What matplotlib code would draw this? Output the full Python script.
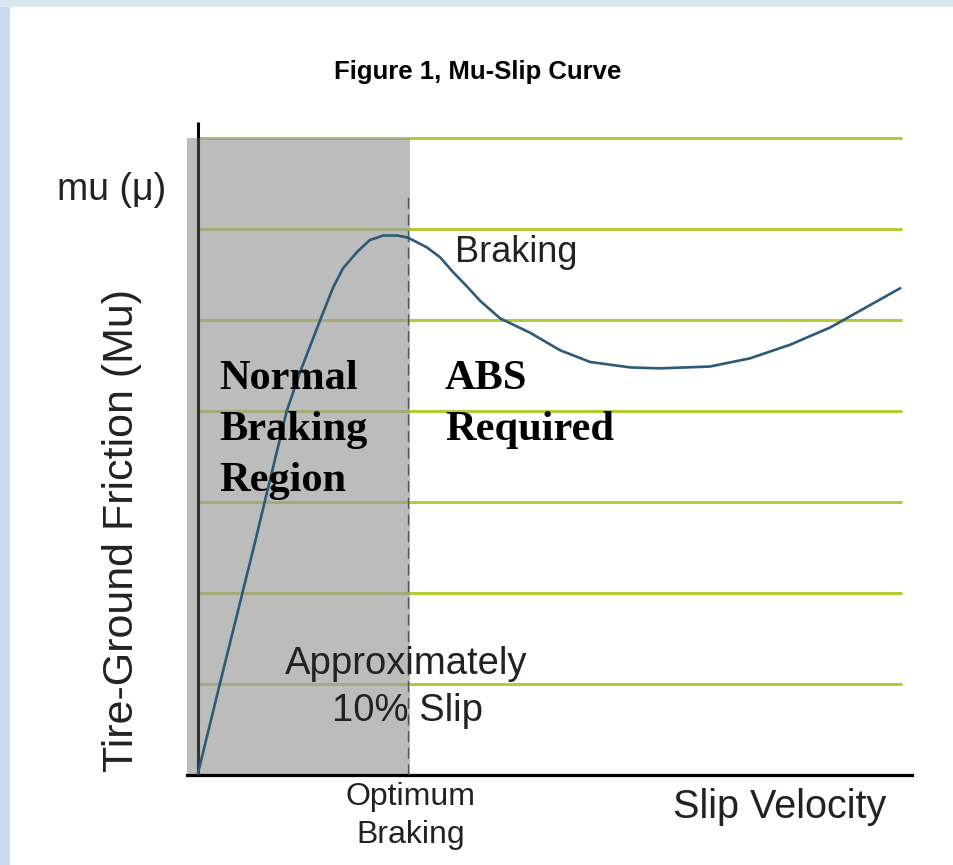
import matplotlib
matplotlib.use("Agg")
import matplotlib.pyplot as plt
from matplotlib.patches import Rectangle

# mu-slip curve (slip in arbitrary units, mu in grid steps)
slip = [0, 3.1, 8.1, 9.5, 12.6, 14.5, 17.6, 19.2, 20.6, 22.6, 24.4, 26.3, 28.3,
        29.7, 30.5, 32.5, 34.4, 36.2, 38.2, 40.1, 42.9, 47.2, 51.4, 55.7, 61.4,
        65.6, 72.7, 78.4, 84.1, 89.8, 99.7]
mu = [0.02, 1.0, 2.56, 3.01, 4.0, 4.43, 5.05, 5.36, 5.57, 5.75, 5.88, 5.93, 5.93,
      5.91, 5.88, 5.80, 5.69, 5.53, 5.37, 5.21, 5.02, 4.86, 4.67, 4.54, 4.48,
      4.47, 4.49, 4.58, 4.73, 4.92, 5.35]
grid_levels = [1, 2, 3, 4, 5, 6, 7]
optimum_slip = 29.8
region_right = 30.1

W, H = 954, 865
fig = plt.figure(figsize=(W / 100, H / 100), dpi=100)
fig.set_facecolor("white")

def fx(px):
    return px / W

def fy(py):
    return 1 - py / H

# light blue frame on the left and top
fig.patches.append(Rectangle((0, 0), fx(10), 1, transform=fig.transFigure,
                             facecolor="#c9d9ee", edgecolor="none", zorder=0))
fig.patches.append(Rectangle((0, fy(7)), 1, fy(0) - fy(7), transform=fig.transFigure,
                             facecolor="#dce6f3", edgecolor="none", zorder=0))

ax = fig.add_axes([fx(187), fy(775), fx(912) - fx(187), fy(120) - fy(775)])
ax.set_xlim(-1.56, 101.4)
ax.set_ylim(0, 7.2)
ax.set_facecolor("none")
for s in ["top", "right", "left"]:
    ax.spines[s].set_visible(False)
ax.spines["bottom"].set_linewidth(2.3)
ax.spines["bottom"].set_color("black")
ax.set_xticks([])
ax.set_yticks([])

# green horizontal lines
ax.hlines(grid_levels, 0, 100, color="#b5cb38", lw=2.2, zorder=1)

# shaded normal braking region
ax.add_patch(Rectangle((-1.56, 0), region_right + 1.56, 7.0, facecolor="#9c9c9c",
                       alpha=0.68, edgecolor="none", zorder=2))

# y axis line and small top tick
ax.plot([0, 0], [0, 7.0], color="#333333", lw=2.2, zorder=3, solid_capstyle="butt")
ax.plot([0, 0], [7.0, 7.18], color="black", lw=2.2, zorder=3, solid_capstyle="butt")

# optimum slip dashed line
ax.plot([optimum_slip, optimum_slip], [0, 6.4], color="#555555", lw=1,
        ls=(0, (8, 4)), zorder=3)

ax.plot(slip, mu, color="#2c5a78", lw=1.9, zorder=4)

sans = ["Liberation Sans", "DejaVu Sans"]
serif = ["Liberation Serif", "DejaVu Serif"]

fig.text(fx(478), fy(72), "Figure 1, Mu-Slip Curve", ha="center", va="center",
         fontsize=18.5, fontweight="bold", family=sans)
fig.text(fx(112), fy(190), "mu (\u03bc)", ha="center", va="center",
         fontsize=27, family=sans, color="#222222")
fig.text(fx(122), fy(530), "Tire-Ground Friction (Mu)", ha="center", va="center",
         rotation=90, fontsize=31, family=sans, color="#222222")
fig.text(fx(455), fy(252), "Braking", ha="left", va="center",
         fontsize=26, family=sans, color="#222222")
fig.text(fx(219), fy(360), "Normal\nBraking\nRegion", ha="left", va="top",
         fontsize=30.5, fontweight="bold", family=serif, linespacing=1.45)
fig.text(fx(445), fy(360), "ABS\nRequired", ha="left", va="top",
         fontsize=30.5, fontweight="bold", family=serif, linespacing=1.45)
fig.text(fx(406), fy(664), "Approximately", ha="center", va="center",
         fontsize=27.5, family=sans, color="#222222")
fig.text(fx(483), fy(711), "10% Slip", ha="right", va="center",
         fontsize=27.5, family=sans, color="#222222")
fig.text(fx(411), fy(816), "Optimum\nBraking", ha="center", va="center",
         fontsize=23, family=sans, color="#222222", linespacing=1.35)
fig.text(fx(780), fy(807), "Slip Velocity", ha="center", va="center",
         fontsize=28.5, family=sans, color="#222222")

fig.savefig("out.png", dpi=100)
